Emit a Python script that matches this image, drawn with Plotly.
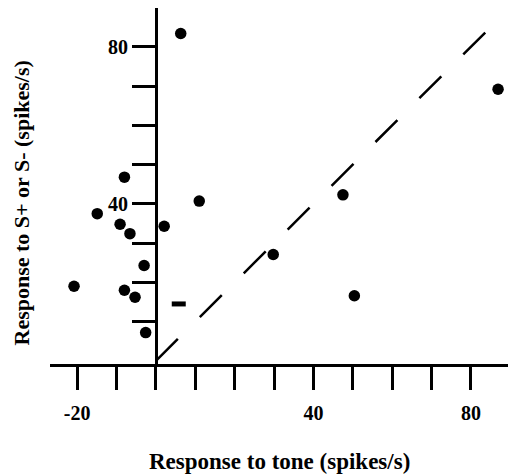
import plotly.graph_objects as go

# Data
tone = [6.3, -8.0, 11.0, -14.9, -9.1, -6.6, 2.1, -3.0, -20.8, -8.0, -5.3, -2.6, 29.8, 47.5, 50.4, 86.9]
sresp = [83.4, 46.8, 40.7, 37.5, 34.8, 32.4, 34.3, 24.3, 19.0, 18.0, 16.2, 7.2, 27.1, 42.3, 16.6, 69.2]

dash_x = [5.8]
dash_y = [14.5]

diag_x = [0, 85.3]
diag_y = [0, 85.3]

x_tickvals = [-20, -10, 0, 10, 20, 30, 40, 50, 60, 70, 80]
x_ticktext = ["<b>-20</b>", "", "", "", "", "", "<b>40</b>", "", "", "", "<b>80</b>"]
y_tickvals = [10, 20, 30, 40, 50, 60, 70, 80]
y_ticktext = ["", "", "", "<b>40</b>", "", "", "", "<b>80</b>"]

x_title = "<b>Response to tone (spikes/s)</b>"
y_title = "<b>Response to S+ or S- (spikes/s)</b>"

x_range = [-26.9, 91.2]
y_range = [-0.8, 89.9]

FONT = "Liberation Serif, Times New Roman, serif"
FS = 20

fig = go.Figure()
fig.add_trace(go.Scatter(x=diag_x, y=diag_y, mode="lines",
                         line=dict(color="black", width=2.5, dash="31px,31px"),
                         hoverinfo="skip", showlegend=False))
fig.add_trace(go.Scatter(x=tone, y=sresp, mode="markers",
                         marker=dict(color="black", size=11.5, line=dict(width=0)),
                         showlegend=False))
fig.add_trace(go.Scatter(x=dash_x, y=dash_y, mode="markers",
                         marker=dict(symbol="line-ew", size=10, color="black",
                                     line=dict(color="black", width=5)),
                         showlegend=False))

ypos = (0 - x_range[0]) / (x_range[1] - x_range[0])

# page body has an 8px margin, so the figure is drawn at (8, 8)
fig.update_layout(
    width=508, height=467,
    margin=dict(l=42, r=1, t=0, b=111),
    plot_bgcolor="white", paper_bgcolor="white",
    font=dict(family=FONT, size=FS, color="black"),
    xaxis=dict(range=x_range, tickvals=x_tickvals, ticktext=x_ticktext,
               showgrid=False, zeroline=False, showline=True, linewidth=3, linecolor="black",
               ticks="outside", ticklen=23, tickwidth=3, tickcolor="black",
               tickfont=dict(family=FONT, size=FS), ticklabelstandoff=6),
    yaxis=dict(range=y_range, tickvals=y_tickvals, ticktext=y_ticktext,
               anchor="free", position=ypos,
               showgrid=False, zeroline=False, showline=True, linewidth=3, linecolor="black",
               ticks="outside", ticklen=23, tickwidth=3, tickcolor="black",
               tickfont=dict(family=FONT, size=FS)),
    annotations=[
        dict(text=x_title, xref="paper", yref="paper",
             x=(279 - 50) / 465, y=(364 - 461) / 356, xanchor="center", yanchor="middle",
             showarrow=False, font=dict(family=FONT, size=23)),
        dict(text=y_title, xref="paper", yref="paper",
             x=(21 - 50) / 465, y=(364 - 203.5) / 356, xanchor="center", yanchor="middle",
             textangle=-90, showarrow=False, font=dict(family=FONT, size=22)),
    ],
)

fig.write_html("out.html")
